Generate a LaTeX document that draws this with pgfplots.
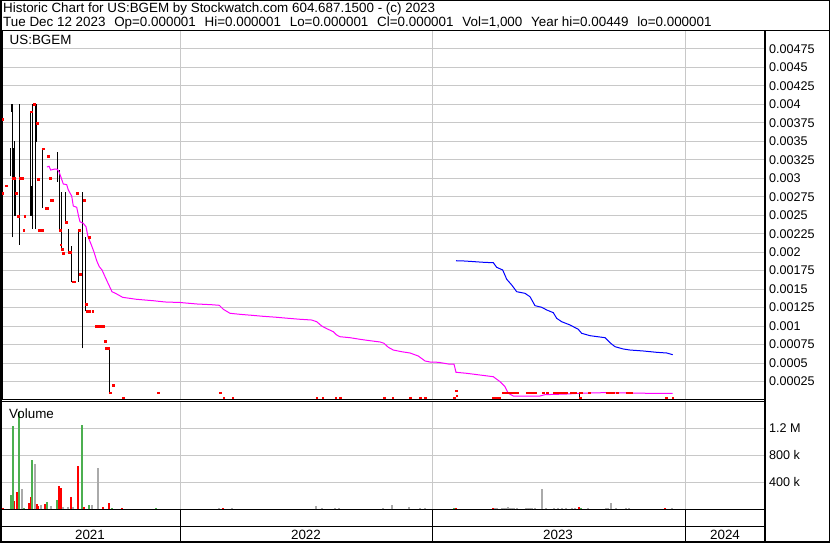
\documentclass[border=0pt]{standalone}
\usepackage{fontspec}
\setmainfont{Liberation Sans}
\usepackage{pgfplots}
\pgfplotsset{compat=1.18}
\definecolor{gridgray}{RGB}{200,200,200}
\definecolor{volgreen}{RGB}{76,175,80}
\definecolor{volgray}{RGB}{170,170,170}
\definecolor{mag}{RGB}{255,0,255}
\newcommand{\gap}{\hspace{8.8pt}}
\begin{document}
\fontsize{13.4}{15}\selectfont
\begin{tikzpicture}[x=1pt,y=1pt]
\useasboundingbox (0pt,0pt) rectangle (830pt,543pt);
% ---------------- price panel ----------------
\begin{axis}[
  at={(2pt,143pt)}, anchor=south west, scale only axis,
  width=763pt, height=369pt,
  xmin=2, xmax=765, ymin=0, ymax=0.004992,
  xtick={180,432,685}, xticklabels={},
  ytick={0.00025,0.0005,0.00075,0.001,0.00125,0.0015,0.00175,0.002,0.00225,0.0025,0.00275,0.003,0.00325,0.0035,0.00375,0.004,0.00425,0.0045,0.00475},
  yticklabels={0.00025,0.0005,0.00075,0.001,0.00125,0.0015,0.00175,0.002,0.00225,0.0025,0.00275,0.003,0.00325,0.0035,0.00375,0.004,0.00425,0.0045,0.00475},
  scaled y ticks=false,
  yticklabel pos=right,
  grid=major, grid style={gridgray, line width=1pt},
  major tick length=0pt, tick style={draw=none},
  axis line style={line width=1pt},
  yticklabel style={anchor=west, inner sep=0pt, xshift=4pt, font=\fontsize{12.6}{15}\selectfont},
  unbounded coords=jump,
]
% daily high-low bars
\addplot[black, line width=1pt] coordinates {
(10.5,0.00303) (10.5,0.00341) (10.5,nan)
(11.3,0.0039) (11.3,0.004) (11.3,nan)
(12.2,0.0022) (12.2,0.004) (12.2,nan)
(13,0.003) (13,0.00341) (13,nan)
(13.6,0.003) (13.6,0.00341) (13.6,nan)
(14.3,0.00249) (14.3,0.0035) (14.3,nan)
(15.3,0.00249) (15.3,0.003) (15.3,nan)
(19.2,0.0021) (19.2,0.004) (19.2,nan)
(30.3,0.00249) (30.3,0.0039) (30.3,nan)
(31.2,0.00249) (31.2,0.00289) (31.2,nan)
(32.2,0.00231) (32.2,0.004) (32.2,nan)
(35.2,0.00231) (35.2,0.004) (35.2,nan)
(36,0.00349) (36,0.004) (36,nan)
(36.7,0.00349) (36.7,0.004) (36.7,nan)
(42.3,0.0026) (42.3,0.00341) (42.3,nan)
(57,0.00295) (57,0.00331) (57,nan)
(57.8,0.00295) (57.8,0.00336) (57.8,nan)
(59.2,0.0023) (59.2,0.00311) (59.2,nan)
(61.3,0.00204) (61.3,0.00281) (61.3,nan)
(65.3,0.00239) (65.3,0.00281) (65.3,nan)
(68.3,0.00199) (68.3,0.00231) (68.3,nan)
(71.2,0.00159) (71.2,0.00208) (71.2,nan)
(78.2,0.0016) (78.2,0.00231) (78.2,nan)
(82.3,0.0007) (82.3,0.00281) (82.3,nan)
(85.3,0.0012) (85.3,0.00221) (85.3,nan)
(109.3,0.0001) (109.3,0.0007) (109.3,nan)
(579.3,0.00001) (579.3,0.0001)
};
% single-price days
\addplot[only marks, mark=square*, mark size=0.9pt, color=red] coordinates {
(2.7,0.0038) (6,0.0029) (2,0.0028) (12.7,0.003) (14.7,0.003) (20,0.003) (22.7,0.003)
(16,0.0028) (18,0.00249) (24.7,0.00249) (23.7,0.0023) (31.3,0.0039) (34,0.004)
(37,0.00374) (38,0.00299) (39,0.0023) (42,0.0023) (43,0.0034) (46.3,0.0026) (47.3,0.0026)
(48,0.0033) (50,0.003) (51.3,0.0027) (52.3,0.0027) (60,0.0023) (60.7,0.0021) (62,0.00204)
(63.3,0.00199) (66,0.0024) (68.7,0.002) (70,0.002) (72.7,0.0016) (74,0.0016) (77,0.0028)
(79,0.0023) (80,0.0017) (84,0.0027) (86,0.0013) (87.3,0.0012) (89.3,0.0012) (92.7,0.0012)
(89,0.0022) (96,0.001) (98,0.001) (100,0.001) (103.3,0.001) (105,0.0008) (106,0.0007)
(108.7,0.0007) (110,0.0001) (113,0.0002) (123,0.00003) (158,0.0001) (220,0.0001)
(223.7,0.00003) (232.7,0.00003) (316.7,0.00003) (322.7,0.00003) (335.7,0.00003) (340,0.00003)
(384,0.00003) (392.7,0.00003) (410,0.00003) (420,0.00003) (425,0.00003) (454,0.00003)
(456,0.000126) (456.7,0.000058) (493,0.00003) (495,0.00003) (497,0.00003) (499,0.00003)
(503,0.0001) (505,0.0001) (507,0.0001) (509,0.0001) (511,0.0001) (513,0.0001) (515,0.0001) (517,0.0001)
(527,0.0001) (529,0.0001) (531,0.0001) (533,0.0001) (535,0.0001) (543,0.0001) (547,0.0001)
(554,0.0001) (556,0.0001) (558,0.0001) (560,0.0001) (562,0.0001) (564,0.0001) (566,0.0001)
(571,0.0001) (573,0.0001) (575,0.0001) (580,0.0001) (581,0.0001) (589,0.0001)
(607,0.0001) (609,0.0001) (611,0.0001) (613,0.0001) (617,0.0001) (627,0.0001) (629,0.0001) (631,0.0001)
(580,0.00003) (666,0.00003) (672.7,0.00003)
};
% moving average (magenta)
\addplot[mag, line width=1pt] coordinates {
(47,0.003152) (49,0.003162) (50.7,0.003111) (55,0.003125) (57.3,0.003121) (59,0.003088)
(61,0.003013) (63.3,0.002922) (66.7,0.002913) (68.3,0.002841) (71.7,0.00276) (73.3,0.002624)
(76.7,0.002607) (78.7,0.00248) (80,0.002412) (83.3,0.00239) (86,0.002344) (88,0.002209)
(90.7,0.00212) (94,0.002002) (96.7,0.001884) (99.3,0.001803) (102,0.001759) (105.3,0.00166)
(108.7,0.00156) (112,0.001465) (116.7,0.001434) (122.7,0.001389) (127.3,0.00138) (136.7,0.001362)
(153.3,0.001343) (165,0.001326) (180,0.001319) (196.7,0.001299) (211.7,0.001289) (219.3,0.001281)
(223.3,0.001227) (230,0.001173) (240,0.001159) (251.7,0.001146) (263.3,0.001132) (276.7,0.001119)
(288.3,0.001105) (300,0.001092) (311.7,0.001082) (316.7,0.001059) (321.7,0.001001) (326.7,0.000965)
(333.3,0.000924) (336.7,0.000879) (340,0.000856) (350,0.000843) (360,0.000821) (370,0.000802)
(380,0.000785) (384,0.000767) (388.3,0.000713) (393.3,0.000676) (401.7,0.000653) (410,0.000636)
(418.3,0.000595) (425,0.000528) (430,0.000514) (438.3,0.00051) (449.3,0.000485) (454,0.000485)
(456,0.000375) (466.7,0.000361) (480,0.000338) (493.3,0.000315) (500,0.000248) (505,0.00018)
(508.3,0.000091) (513.3,0.000054) (540,0.000054) (545,0.000072) (566.7,0.000081) (580,0.000091)
(603.3,0.000099) (646.7,0.000091) (672.7,0.000091)
};
% moving average (blue)
\addplot[blue, line width=1pt] coordinates {
(456,0.001884) (465,0.00188) (483.3,0.001863) (493.3,0.001857) (496.7,0.001795) (502.7,0.001759)
(506.7,0.001633) (511.7,0.001556) (516.7,0.001465) (525,0.001443) (530,0.001397) (535,0.001276)
(541.7,0.001254) (546.7,0.001218) (553.3,0.001181) (556.7,0.001105) (561.7,0.001059) (570,0.001015)
(578.3,0.000956) (581.7,0.000902) (590,0.00087) (605,0.000843) (610,0.000775) (615,0.000721)
(623.3,0.00069) (630,0.000676) (643.3,0.000663) (656.7,0.000645) (666.7,0.000636) (672.7,0.000613)
};
\end{axis}
% ---------------- volume panel ----------------
\begin{axis}[
  at={(2pt,33.7pt)}, anchor=south west, scale only axis,
  width=763pt, height=107.3pt,
  xmin=2, xmax=765, ymin=0, ymax=1590000,
  xtick={180,432,685}, xticklabels={},
  ytick={400000,800000,1200000}, yticklabels={400 k,800 k,1.2 M},
  scaled y ticks=false,
  yticklabel pos=right,
  grid=major, grid style={gridgray, line width=1pt},
  major tick length=0pt, tick style={draw=none},
  axis line style={line width=1pt},
  yticklabel style={anchor=west, inner sep=0pt, xshift=4pt, font=\fontsize{12.6}{15}\selectfont},
]
\addplot[ycomb, volgray, line width=2pt] coordinates {
(1,64000) (22,300000) (35,671000) (41,64000) (51,49000) (62.5,34000) (67.5,39000) (72.5,34000)
(91.7,59000) (97.7,612000) (219,15000) (232,15000) (316,45000) (321.5,15000) (335,15000) (339,15000)
(383,20000) (392,60000) (409,30000) (420,15000) (424.5,15000) (495,15000) (497,15000)
(502,15000) (504,15000) (506,15000) (508,35000) (510,15000) (512,15000) (514,15000) (517,15000)
(526,15000) (528,15000) (530,15000) (532,15000) (535,15000) (541.5,300000) (545.5,15000)
(554,15000) (558,15000) (562,15000) (566,15000) (571.5,15000) (574.5,15000) (588,15000)
(606,15000) (608,15000) (611,100000) (616,15000) (626,15000) (629,15000) (672,15000)
};
\addplot[ycomb, red, line width=2pt] coordinates {
(3.5,20000) (14,123000) (17,256000) (29,93000) (30.5,187000) (36.5,83000) (38,49000) (44.5,79000)
(58.5,345000) (60.5,311000) (70.7,182000) (77.7,646000) (84,34000) (103,34000) (108.5,89000)
(122,19000) (222.5,15000) (455.5,15000) (493,15000) (579,40000) (665,15000)
};
\addplot[ycomb, volgreen, line width=2pt] coordinates {
(11,212000) (13,1234000) (19,1440000) (24,15000) (32,730000) (46.5,108000) (57,138000)
(81.7,1249000) (88.7,59000) (111.5,19000) (156,19000) (453.5,15000) (580.5,15000)
};
\end{axis}
% ---------------- frame and bands ----------------
\draw[line width=1pt] (0pt,512pt) -- (830pt,512pt);
\draw[line width=1.2pt] (765pt,512pt) -- (765pt,0pt);
\draw[line width=1pt] (2pt,16pt) -- (765pt,16pt);
\foreach \xx in {180,432,685} {\draw[line width=1pt] (\xx pt,33.7pt) -- (\xx pt,0pt);}
\draw[line width=1.5pt] (0.75pt,0.75pt) rectangle (829.25pt,542.25pt);
% ---------------- texts ----------------
\node[anchor=base west, inner sep=0pt] at (3pt,530.3pt) {Historic Chart for US:BGEM by Stockwatch.com 604.687.1500 - (c) 2023};
\node[anchor=base west, inner sep=0pt] at (3pt,516.3pt) {Tue Dec 12 2023\gap Op=0.000001\gap Hi=0.000001\gap Lo=0.000001\gap Cl=0.000001\gap Vol=1,000\gap Year hi=0.00449\gap lo=0.000001};
\node[anchor=base west, inner sep=0pt] at (9.5pt,498pt) {US:BGEM};
\node[anchor=base west, inner sep=0pt] at (9pt,124.7pt) {Volume};
\node[anchor=base, inner sep=0pt] at (90pt,3pt) {2021};
\node[anchor=base, inner sep=0pt] at (306pt,3pt) {2022};
\node[anchor=base, inner sep=0pt] at (558pt,3pt) {2023};
\node[anchor=base, inner sep=0pt] at (725pt,3pt) {2024};
\end{tikzpicture}
\end{document}
